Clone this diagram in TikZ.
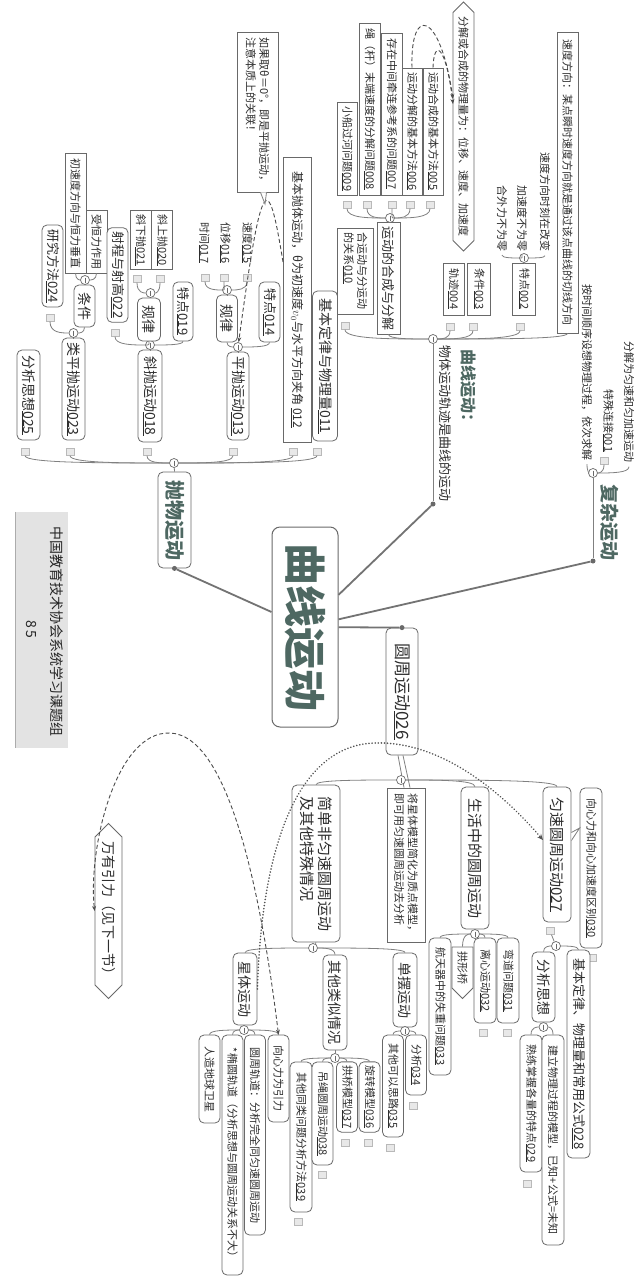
\documentclass[tikz,border=0pt]{standalone}
\usepackage{fontspec}
\setmainfont{Noto Sans CJK SC}
\usetikzlibrary{calc,shapes.symbols,arrows.meta}
\definecolor{titlec}{RGB}{78,104,98}
\definecolor{linec}{RGB}{128,128,128}
\definecolor{bordc}{RGB}{105,105,105}
\definecolor{txtc}{RGB}{45,45,45}
\newcommand\nm[1]{\underline{#1}}
\newcommand\brc[2]{\draw[conn] (#1) .. controls ($(#1)!0.5!(#1 -| #2)$) and (#1 -| #2) .. (#2);}
\begin{document}
\begin{tikzpicture}[x=1pt,y=-1pt,
  f11/.style={font=\fontsize{11}{13.5}\selectfont},
  f12/.style={font=\fontsize{12}{14.5}\selectfont},
  f13/.style={font=\fontsize{13}{15.5}\selectfont},
  f14/.style={font=\fontsize{14}{17}\selectfont},
  f15/.style={font=\fontsize{15}{18}\selectfont},
  f16/.style={font=\fontsize{16}{19}\selectfont\bfseries},
  f17/.style={font=\fontsize{17}{20}\selectfont},
  f19/.style={font=\fontsize{19}{22}\selectfont\bfseries},
  f20/.style={font=\fontsize{20}{24}\selectfont\bfseries},
  base/.style={rotate=-90, text=txtc, f11, inner xsep=4pt, inner ysep=3pt},
  tp/.style={base, draw=bordc, line width=0.8pt, rounded corners=5pt, fill=white},
  rc/.style={base, draw=bordc, line width=0.8pt, fill=white},
  pl/.style={base},
  hx/.style={base, draw=bordc, line width=0.8pt, shape=signal, signal to=west and east, fill=white},
  sz/.style 2 args={minimum width=#1pt, minimum height=#2pt},
  jn/.style={circle, draw=bordc, fill=white, line width=0.7pt, minimum size=9pt, inner sep=0pt,
     path picture={\draw[bordc,line width=0.6pt] ($(path picture bounding box.center)+(0,-2.5)$) -- ++(0,5);}},
  dt/.style={circle, fill=bordc, minimum size=5pt, inner sep=0pt},
  icon/.style={rectangle, draw=gray!55, fill=gray!18, minimum width=8pt, minimum height=7pt, inner sep=0pt},
  conn/.style={draw=linec, line width=0.8pt},
  trunk/.style={draw=linec!90!black, line width=1.8pt},
  rel/.style={draw=gray!60!black, line width=0.9pt, dash pattern=on 4pt off 2.5pt},
  dotrel/.style={draw=gray!65!black, line width=1.7pt, dash pattern=on 0.1pt off 3pt, line cap=round},
]
\fill[white] (0,0) rectangle (640,1285);
\useasboundingbox (0,0) rectangle (640,1285);

% footer bar
\node[rotate=-90, fill=gray!22, minimum width=236pt, minimum height=52pt, inner sep=0pt] (ft) at (42,630) {};
\draw[gray!65, line width=1pt] (ft.south west) -- (ft.south east);
\node[base,f14,text=gray!30!black] (ft1) at (57,631) {中国教育技术协会系统学习课题组};
\node[base,f14,text=gray!30!black] (ft2) at (31,629) {8\,5};

% root
\node[tp, font=\fontsize{42}{50}\selectfont\bfseries, text=titlec, sz={200}{66}, rounded corners=8pt, line width=1pt] (root) at (305,627) {曲线运动};

% ===== 抛物运动 =====
\node[tp, f20, text=titlec, sz={96}{33}] (pw) at (174.5,520) {抛物运动};
\node[dt] (dpw) at (pw.east) {};
\node[jn] (jpw) at (174,463) {};
\draw[trunk] (root) -- (dpw);
\draw[conn] (pw.west) -- (jpw);

\node[tp, f14, sz={90}{23}] (n025) at (28.5,395) {分析思想\nm{025}};
\node[tp, f14, sz={102}{23}] (n023) at (73.5,389) {类平抛运动\nm{023}};
\node[tp, f14, sz={92}{24}] (n018) at (150,396) {斜抛运动\nm{018}};
\node[tp, f14, sz={88}{22}] (n013) at (238,396) {平抛运动\nm{013}};
\node[rc, f12, sz={285}{28}] (n012) at (297,300) {基本抛体运动，θ为初速度$v_0$与水平方向夹角 \nm{012}};
\node[tp, f14, sz={150}{25}] (n011) at (325,366) {基本定律与物理量\nm{011}};
\node[icon] (i025) at (25,452) {};
\node[icon] (i023) at (70,452) {};
\node[icon] (i018) at (147,452) {};
\node[icon] (i013) at (233,452) {};
\node[icon] (i012) at (293,452) {};
\node[icon] (i011) at (317,452) {};
\brc{jpw}{i025.south}\brc{jpw}{i023.south}\brc{jpw}{i018.south}
\brc{jpw}{i013.south}\brc{jpw}{i012.south}\brc{jpw}{i011.south}

% 类平抛
\node[jn] (j023) at (73.5,333) {};
\draw[conn] (n023.west) -- (j023);
\node[tp, f14, sz={42}{21}] (n023c) at (84.5,306) {条件};
\node[tp, f13, sz={82}{21}] (n024) at (52.5,266) {研究方法\nm{024}};
\node[icon] (i024) at (50,318) {};
\brc{j023}{n023c.east}\brc{j023}{i024.south}
\node[jn] (j023c) at (85,280) {};
\draw[conn] (n023c.west) -- (j023c);
\node[rc, sz={63}{21}] (nhl) at (96.5,241.5) {受恒力作用};
\node[rc, sz={120}{21}] (ncs) at (75.5,213) {初速度方向与恒力垂直};
\brc{j023c}{nhl.east}\brc{j023c}{ncs.east}

% 斜抛
\node[jn] (j018) at (150,345) {};
\draw[conn] (n018.west) -- (j018);
\node[tp, f14, sz={43}{23}] (n018g) at (149,319.5) {规律};
\node[tp, f13, sz={59}{20}] (n019) at (183,311.5) {特点\nm{019}};
\node[tp, f13, sz={94}{21}] (n022) at (117.5,275) {射程与射高\nm{022}};
\node[icon] (i022) at (115,333) {};
\brc{j018}{n018g.east}\brc{j018}{n019.east}\brc{j018}{i022.south}
\node[jn] (j018g) at (150.5,293) {};
\draw[conn] (n018g.west) -- (j018g);
\node[rc, sz={56}{21}] (n021) at (140.5,240) {斜下抛\nm{021}};
\node[rc, sz={56}{21}] (n020) at (162,240) {斜上抛\nm{020}};
\node[icon] (i021) at (137,279) {};
\node[icon] (i020) at (160,279) {};
\brc{j018g}{i021.south}\brc{j018g}{i020.south}

% 平抛
\node[jn] (j013) at (238,347) {};
\draw[conn] (n013.west) -- (j013);
\node[tp, f14, sz={47}{21}] (n013g) at (227,318.5) {规律};
\node[tp, f13, sz={60}{21}] (n014) at (269.5,312) {特点\nm{014}};
\brc{j013}{n013g.east}\brc{j013}{n014.east}
\node[jn] (j013g) at (227,290) {};
\draw[conn] (n013g.west) -- (j013g);
\node[pl] (n017) at (204,243) {时间\nm{017}};
\node[pl] (n016) at (225,243) {位移\nm{016}};
\node[pl] (n015) at (247,243) {速度\nm{015}};
\node[icon] (i017) at (205,278) {};
\node[icon] (i016) at (224,278) {};
\node[icon] (i015) at (247,278) {};
\brc{j013g}{i017.south}\brc{j013g}{i016.south}\brc{j013g}{i015.south}

% callout + relation 012 -> 013
\node[rc, sz={160}{41}, align=left] (ncb) at (257.5,112) {如果取θ＝0°，即是平抛运动，\\注意本质上的关联！};
\coordinate (r12) at (283,262);
\coordinate (pk) at (265,204);
\draw[rel, -{Stealth[length=5pt,width=4pt]}] (r12) .. controls (268,170) and (262,170) .. (j013);
\draw[conn, fill=white] ($(ncb.east)+(3,0)$) -- (pk) -- ($(ncb.east)+(9,0)$);

% ===== 曲线运动： =====
\node[pl, f16, text=titlec, anchor=west] (ntc1) at (468,345) {曲线运动：};
\node[pl, f13, anchor=west] (ntc2) at (445,341) {物体运动轨迹是曲线的运动};
\node[jn] (jtc) at (433,339) {};
\node[dt] (dtc) at (433,504) {};
\draw[conn] (jtc) -- (dtc);
\draw[trunk] (root) -- (dtc);

\node[rc, sz={86}{36}, align=left] (n010) at (355,271) {合运动与分运动\\的关系\nm{010}};
\node[icon] (i010) at (345,326) {};
\node[rc, f13, sz={110}{23}] (nms) at (388.5,278) {运动的合成与分解};
\node[rc, sz={52}{21}] (n004) at (453.5,289) {轨迹\nm{004}};
\node[rc, sz={52}{23}] (n003) at (479,289) {条件\nm{003}};
\node[rc, sz={52}{23}] (n002) at (524,289) {特点\nm{002}};
\node[icon] (i004) at (450,327) {};
\node[icon] (i003) at (473,327) {};
\node[icon] (i002) at (520,327) {};
\node[rc, sz={301}{21}] (n001v) at (567.5,182.5) {速度方向：某点瞬时速度方向就是通过该点曲线的切线方向};
\brc{jtc}{i010.south}\brc{jtc}{nms.east}\brc{jtc}{i004.south}
\brc{jtc}{i003.south}\brc{jtc}{i002.south}\brc{jtc}{n001v.east}

\node[jn] (j002) at (524,258) {};
\draw[conn] (n002.west) -- (j002);
\node[pl] (nhw) at (502,218) {合外力不为零};
\node[pl] (njsd) at (522,218) {加速度不为零};
\node[pl] (nsdf) at (545,202) {速度方向时刻在改变};
\brc{j002}{nhw.east}\brc{j002}{njsd.east}\brc{j002}{nsdf.east}

\node[jn] (jms) at (390,218) {};
\draw[conn] (nms.west) -- (jms);
\node[rc, sz={92}{20}] (n009) at (347,149) {小船过河问题\nm{009}};
\node[rc, sz={172}{21}] (n008) at (369.5,109) {绳（杆）末端速度的分解问题\nm{008}};
\node[rc, sz={162}{21}] (n007) at (391.5,114) {存在中间牵连参考系的问题\nm{007}};
\node[rc, sz={127}{20}] (n006) at (412,131.5) {运动分解的基本方法\nm{006}};
\node[rc, sz={127}{20}] (n005) at (433,131.5) {运动合成的基本方法\nm{005}};
\node[icon] (i009) at (347,205) {};
\node[icon] (i008) at (367,205) {};
\node[icon] (i007) at (392,205) {};
\node[icon] (i006) at (410,205) {};
\node[icon] (i005) at (430,205) {};
\brc{jms}{i009.south}\brc{jms}{i008.south}\brc{jms}{i007.south}
\brc{jms}{i006.south}\brc{jms}{i005.south}

\node[hx, sz={247}{21}] (nhex) at (463.5,126.5) {分解或合成的物理量为：位移、速度、加速度};
\coordinate (hA) at (453,99);
\coordinate (hB) at (453,104);
\draw[rel, -{Stealth[length=5pt,width=4pt]}] (n006.west) .. controls (410,5) and (440,10) .. (hA);
\draw[rel, -{Stealth[length=5pt,width=4pt]}] (n005.west) .. controls (434,38) and (446,45) .. (hB);

% ===== 复杂运动 =====
\node[pl, f19, text=titlec, anchor=west] (nfz) at (610,480) {复杂运动};
\node[jn] (jfz) at (593,473) {};
\node[dt] (dfz) at (593,561) {};
\draw[conn] (jfz) -- (dfz);
\draw[trunk] (root) -- (dfz);
\node[pl] (nasj) at (587,372) {按时间顺序设想物理过程，依次求解};
\node[pl] (n001) at (608,421) {特殊连接\nm{001}};
\node[icon] (i001) at (604,461) {};
\node[pl] (nfj) at (629,402) {分解为匀速和匀加速运动};
\brc{jfz}{nasj.east}\brc{jfz}{i001.south}\brc{jfz}{nfj.east}

% ===== 圆周运动026 =====
\node[tp, f17, sz={127}{32}] (n026) at (402,691.5) {圆周运动\nm{026}};
\node[dt] (d026) at (n026.west) {};
\draw[trunk] (root) -- (d026);
\node[rc, sz={154}{38}, align=left] (njx) at (406,865) {将星体模型简化为质点模型，\\即可用匀速圆周运动去分析};
\draw[conn] ($(n026.east)+(-4,0)$) -- ($(njx.west)+(-2,0)$);
\draw[conn] ($(n026.east)+(1,0)$) -- ($(njx.west)+(4,0)$);
\node[jn] (j026) at (401,780) {};

\node[tp, f15, sz={157}{48}, align=left] (nsf) at (316,863.5) {简单非匀速圆周运动\\及其他特殊情况};
\node[tp, f15, sz={142}{28}] (nlife) at (475,858) {生活中的圆周运动};
\node[tp, f15, sz={135}{28}] (n027) at (557,854.5) {匀速圆周运动\nm{027}};
\brc{j026}{nsf.west}\brc{j026}{nlife.west}\brc{j026}{n027.west}

% 匀速圆周
\node[tp, sz={160}{22}] (n030) at (591,868) {向心力和向心加速度区别\nm{030}};
\draw[conn, fill=white] ($(n027.north)+(0,-22)$) -- ($(n030.south)+(0,-40)$) -- ($(n027.north)+(0,-14)$);
\node[icon] (i030) at (592,958) {};
\node[icon] (i027) at (550,931) {};
\node[jn] (j027) at (556,946) {};
\draw[conn] (i027) -- (j027);
\node[tp, f14, sz={70}{23}] (nfx) at (543.5,987) {分析思想};
\node[tp, f13, sz={208}{23}] (n028) at (578.5,1054) {基本定律、物理量和常用公式\nm{028}};
\brc{j027}{nfx.west}\brc{j027}{n028.west}
\node[jn] (jfx) at (543.5,1027) {};
\draw[conn] (nfx.east) -- (jfx);
\node[tp, sz={137}{22}] (n029) at (531,1103.5) {熟练掌握各量的特点\nm{029}};
\node[tp, sz={210}{22}] (njl) at (553,1140) {建立物理过程的模型，已知+公式=未知};
\node[icon] (i029) at (527,1184) {};
\brc{jfx}{n029.west}\brc{jfx}{njl.west}

% 生活中的圆周运动
\node[jn] (jlife) at (475,934) {};
\draw[conn] (nlife.east) -- (jlife);
\node[tp, sz={137}{22}] (n033) at (440,1006.5) {航天器中的失重问题\nm{033}};
\node[base, draw=bordc, line width=0.8pt, fill=white, shape=signal, signal to=east, sz={51}{21}] (ngq) at (462.5,967.5) {拱形桥};
\node[tp, sz={85}{22}] (n032) at (485,980.5) {离心运动\nm{032}};
\node[tp, sz={85}{22}] (n031) at (508,980.5) {弯道问题\nm{031}};
\node[icon] (i032) at (483,1033) {};
\node[icon] (i031) at (507,1033) {};
\brc{jlife}{n033.west}\brc{jlife}{ngq.west}\brc{jlife}{n032.west}\brc{jlife}{n031.west}

% 简单非匀速
\node[jn] (jsf) at (313,948) {};
\draw[conn] (nsf.east) -- (jsf);
\node[tp, f14, sz={72}{24}] (nxt) at (245,989) {星体运动};
\node[tp, f14, sz={95}{24}] (nqt) at (335,1002.5) {其他类似情况};
\node[tp, f14, sz={74}{24}] (ndb) at (405,990) {单摆运动};
\brc{jsf}{nxt.west}\brc{jsf}{nqt.west}\brc{jsf}{ndb.west}

\node[jn] (jxt) at (244,1030) {};
\draw[conn] (nxt.east) -- (jxt);
\node[tp, sz={88}{21}] (nrz) at (209.5,1079) {人造地球卫星};
\node[tp, sz={240}{21}] (nty) at (232.5,1155) {*椭圆轨道（分析思想与圆周运动关系不大）};
\node[tp, sz={200}{21}] (nyz) at (255,1135) {圆周轨道：分析完全同匀速圆周运动};
\node[tp, sz={87}{21}] (nxl) at (278.5,1078.5) {向心力为引力};
\brc{jxt}{nrz.west}\brc{jxt}{nty.west}\brc{jxt}{nyz.west}\brc{jxt}{nxl.west}

\node[jn] (jqt) at (335,1058) {};
\draw[conn] (nqt.east) -- (jqt);
\node[tp, sz={150}{22}] (n039) at (301,1137) {其他同类问题分析方法\nm{039}};
\node[tp, sz={103}{21}] (n038) at (322.5,1113.5) {吊绳圆周运动\nm{038}};
\node[tp, sz={70}{21}] (n037) at (347,1097) {拱桥模型\nm{037}};
\node[tp, sz={70}{21}] (n036) at (369.5,1097) {旋转模型\nm{036}};
\node[icon] (i039) at (298,1222) {};
\node[icon] (i038) at (322,1175) {};
\node[icon] (i037) at (345,1143) {};
\node[icon] (i036) at (368,1143) {};
\brc{jqt}{n039.west}\brc{jqt}{n038.west}\brc{jqt}{n037.west}\brc{jqt}{n036.west}

\node[jn] (jdb) at (405,1031) {};
\draw[conn] (ndb.east) -- (jdb);
\node[tp, sz={102}{21}] (n035) at (393,1086) {其他可以思路\nm{035}};
\node[tp, sz={60}{21}] (n034) at (416,1065) {分析\nm{034}};
\node[icon] (i035) at (390,1148) {};
\node[icon] (i034) at (413,1106) {};
\brc{jdb}{n035.west}\brc{jdb}{n034.west}

% 万有引力
\node[hx, f14, sz={172}{27}] (nwy) at (108.5,911) {万有引力（见下一节）};

% relations
\coordinate (r27) at (543,840);
\draw[dotrel, -{Stealth[length=6pt,width=5pt]}] (nxt.north) .. controls (262,840) and (300,745) .. (375,743) .. controls (440,741) and (500,790) .. (r27);
\draw[rel, {Stealth[length=5pt,width=4pt]}-{Stealth[length=5pt,width=4pt]}] (nxl.west) .. controls (262,900) and (230,735) .. (170,733) .. controls (115,731) and (88,850) .. (nwy.south);
\end{tikzpicture}
\end{document}
